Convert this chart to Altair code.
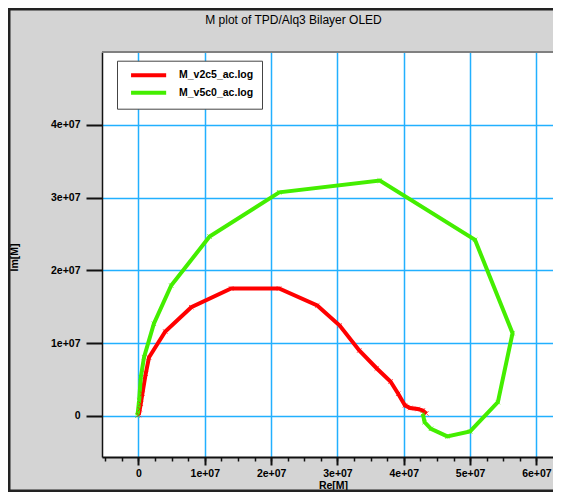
import altair as alt
import pandas as pd

UNIT = 1e6
title_text = "M plot of  TPD/Alq3 Bilayer OLED"
x_title = "Re[M]"
y_title = "Im[M]"
red_name = "M_v2c5_ac.log"
green_name = "M_v5c0_ac.log"

red_re = [0.05, 0.2, 0.35, 0.59, 1.09, 1.58, 4.04, 7.96, 13.97, 21.2, 26.95, 30.34,
          33.29, 35.94, 38.0, 39.16, 40.18, 40.97, 42.1, 42.87, 43.4]
red_im = [0.1, 0.9, 1.65, 3.02, 5.77, 8.0, 11.58, 14.92, 17.49, 17.49, 15.15, 12.4,
          8.97, 6.5, 4.71, 3.02, 1.42, 1.07, 0.93, 0.73, 0.32]

green_re = [-0.15, 0.1, 0.35, 0.84, 2.32, 4.93, 10.72, 21.22, 36.39, 50.74, 56.4,
            54.19, 50.0, 46.56, 44.1, 43.13, 42.88]
green_im = [0.04, 2.1, 5.3, 8.05, 12.64, 17.9, 24.63, 30.71, 32.32, 24.18, 11.35,
            1.87, -2.16, -2.84, -1.79, -0.88, 0.27]

x_major = [0, 1e7, 2e7, 3e7, 4e7, 5e7, 6e7]
x_minor = [-5e6 + 2.5e6 * i for i in range(27)]
y_major = [0, 1e7, 2e7, 3e7, 4e7]
x_domain = [-5.5e6, 62.5e6]
y_domain = [-5.67e6, 50e6]

series_names = [red_name, green_name]
series_colors = ["#ff0000", "#44ee00"]

rows = []
for name, xs, ys in [(red_name, red_re, red_im), (green_name, green_re, green_im)]:
    for i, (a, b) in enumerate(zip(xs, ys)):
        rows.append({"series": name, "i": i, "re": a * UNIT, "im": b * UNIT})
df = pd.DataFrame(rows)

W, H = 451, 405
PAD = {"left": 94, "top": 44, "right": 0, "bottom": 35}

FONT = "Liberation Sans"
label_expr = "datum.value == 0 ? '0' : replace(format(datum.value, '.0e'), 'e+', 'e+0')"

y_enc = alt.Y(
    "im:Q",
    scale=alt.Scale(domain=y_domain, nice=False, zero=False),
    axis=alt.Axis(
        values=y_major, labelExpr=label_expr, title=y_title,
        titleX=-88, titleY=205, titleAngle=-90, titleAlign="center", titleBaseline="middle",
        titleFont=FONT, titleFontSize=10.5, titleFontWeight="bold", titleColor="#000",
        labelFont=FONT, labelFontSize=10.5, labelFontWeight="bold", labelColor="#000",
        tickSize=16, tickWidth=2, tickColor="#111", labelPadding=6,
        domainColor="#111", domainWidth=1.5,
        grid=True, gridColor="#22b0ff", gridWidth=1.5,
    ),
)

color_scale = alt.Scale(domain=series_names, range=series_colors)

lines = alt.Chart(df).mark_line(strokeWidth=4).encode(
    x=alt.X(
        "re:Q",
        scale=alt.Scale(domain=x_domain, nice=False, zero=False),
        axis=alt.Axis(
            orient="bottom", values=x_major, labelExpr=label_expr, title=x_title,
            titleX=231, titleY=28, titleBaseline="middle", titleAlign="center",
            titleFont=FONT, titleFontSize=10.5, titleFontWeight="bold", titleColor="#000",
            labelFont=FONT, labelFontSize=10.5, labelFontWeight="bold", labelColor="#000",
            tickSize=8, tickWidth=2, tickColor="#111", labelPadding=3,
            domainColor="#111", domainWidth=2,
            grid=True, gridColor="#22b0ff", gridWidth=1.5,
        ),
    ),
    y=y_enc,
    order="i:Q",
    color=alt.Color(
        "series:N", scale=color_scale,
        legend=alt.Legend(
            orient="none", legendX=15, legendY=8.7, title=None,
            symbolType="M-0.1,0H7.9", symbolSize=77, symbolStrokeWidth=4,
            labelFont=FONT, labelFontSize=10.5, labelFontWeight="bold", labelColor="#000",
            labelOffset=41, padding=8, rowPadding=0.5,
            strokeColor="#444", fillColor="white",
        ),
    ),
)

points = alt.Chart(df).mark_point(
    shape="M-1,-1L1,1M-1,1L1,-1", size=20, filled=False, strokeWidth=1
).encode(
    x=alt.X(
        "re:Q",
        scale=alt.Scale(domain=x_domain, nice=False, zero=False),
        axis=alt.Axis(
            orient="bottom", values=x_minor, labels=False, title=None, grid=False,
            domain=False, tickSize=4, tickWidth=1.5, tickColor="#111",
        ),
    ),
    y=y_enc,
    stroke=alt.Stroke("series:N", scale=color_scale, legend=None),
)

frame_df = pd.DataFrame({"k": [0]})
top_edge = alt.Chart(frame_df).mark_rule(color="#808080", strokeWidth=2).encode(
    x=alt.value(0), x2=alt.value(W), y=alt.value(0)
)
left_border = alt.Chart(frame_df).mark_rule(color="#222", strokeWidth=3).encode(
    x=alt.value(-93), y=alt.value(-PAD["top"]), y2=alt.value(H + PAD["bottom"])
)
top_border = alt.Chart(frame_df).mark_rule(color="#222", strokeWidth=3).encode(
    x=alt.value(-PAD["left"]), x2=alt.value(W), y=alt.value(-PAD["top"] + 1)
)
bottom_border = alt.Chart(frame_df).mark_rule(color="#222", strokeWidth=3).encode(
    x=alt.value(-PAD["left"]), x2=alt.value(W), y=alt.value(H + PAD["bottom"] - 1)
)

chart = (
    alt.layer(lines, points, top_edge, left_border, top_border, bottom_border)
    .resolve_axis(x="independent")
    .properties(
        width=W, height=H,
        padding=PAD,
        autosize=alt.AutoSizeParams(type="none"),
        title=alt.TitleParams(
            title_text, font=FONT, fontSize=12, fontWeight="normal", color="#000",
            anchor="middle", frame="group", offset=-32, dx=-34, baseline="bottom",
        ),
        background="#d4d4d4",
    )
    .configure_view(fill="white", stroke=None)
)

chart.save("out.html", embed_options={"renderer": "svg", "actions": False})
